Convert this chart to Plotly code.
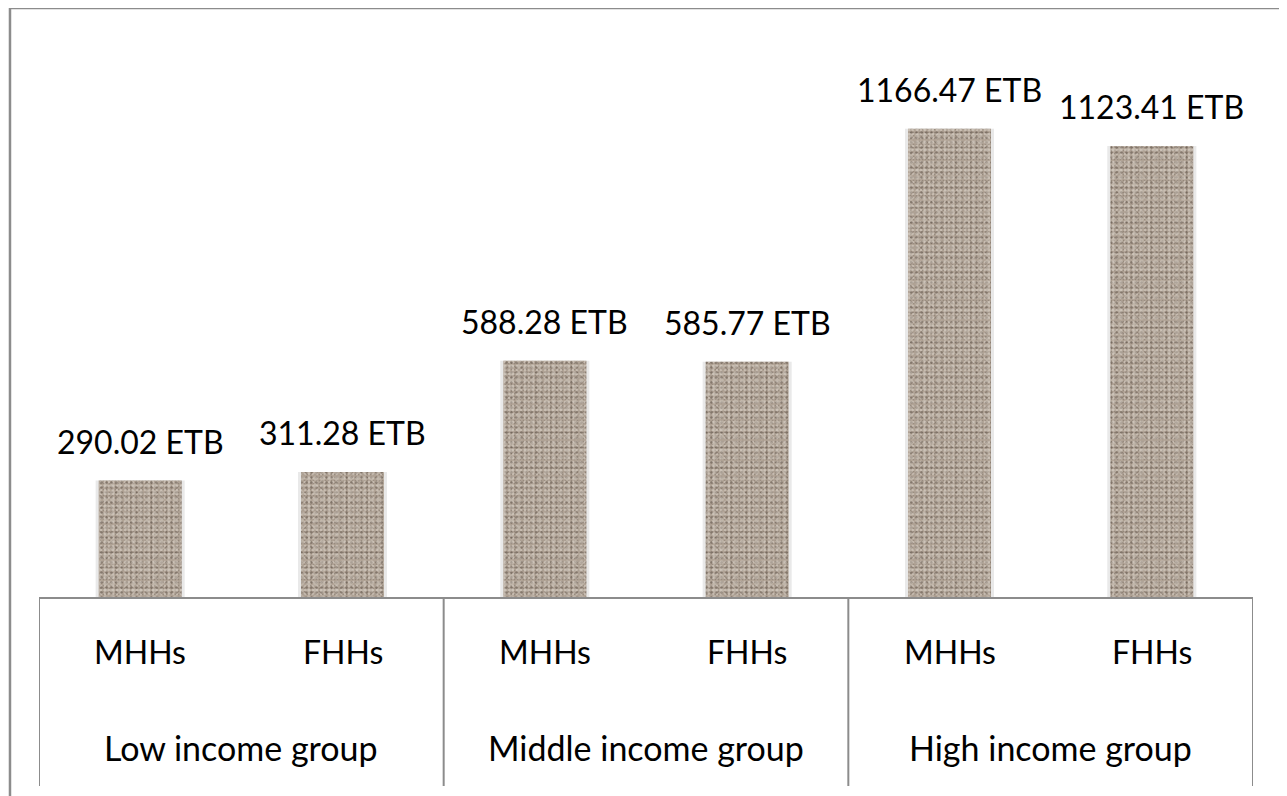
import plotly.graph_objects as go

groups = ["Low income group", "Middle income group", "High income group"]
heads = ["MHHs", "FHHs"]
values = [290.02, 311.28, 588.28, 585.77, 1166.47, 1123.41]
value_labels = ["290.02 ETB", "311.28 ETB", "588.28 ETB", "585.77 ETB", "1166.47 ETB", "1123.41 ETB"]

FONT = "Lato"
LINE = "#8c8c8c"

xs = list(range(len(values)))
sub_labels = [h for g in groups for h in heads]

fig = go.Figure()

# faint shadow behind each bar
fig.add_trace(
    go.Bar(
        x=xs,
        y=values,
        width=0.44,
        marker=dict(color="rgba(120,120,120,0.16)", line=dict(width=0)),
        hoverinfo="skip",
    )
)

# granite-like texture: small dot patterns with co-prime sizes stacked on top of each other
fig.add_trace(
    go.Bar(
        x=xs,
        y=values,
        width=0.41,
        marker=dict(
            color="#afa295",
            line=dict(width=0),
            pattern=dict(shape=".", fgcolor="#7a6d61", size=3, solidity=0.25),
        ),
    )
)
for fg, size, sol in [("#ddd5cc", 4, 0.3), ("#564a40", 5, 0.2), ("#d2c9c0", 7, 0.35)]:
    fig.add_trace(
        go.Bar(
            x=xs,
            y=values,
            width=0.41,
            marker=dict(
                color="rgba(0,0,0,0)",
                line=dict(width=0),
                pattern=dict(shape=".", fgcolor=fg, bgcolor="rgba(0,0,0,0)",
                             fillmode="overlay", size=size, solidity=sol),
            ),
            hoverinfo="skip",
        )
    )

annotations = []
for x, v, t in zip(xs, values, value_labels):
    annotations.append(
        dict(x=x, y=v, xref="x", yref="y", text=t, showarrow=False,
             yanchor="bottom", yshift=18, font=dict(family=FONT, size=32, color="black"))
    )
for x, t in zip(xs, sub_labels):
    annotations.append(
        dict(x=x, y=0, xref="x", yref="paper", text=t, showarrow=False,
             yanchor="middle", yshift=-54, font=dict(family=FONT, size=32, color="black"))
    )
for i, g in enumerate(groups):
    annotations.append(
        dict(x=i * 2 + 0.5, y=0, xref="x", yref="paper", text=g, showarrow=False,
             yanchor="middle", yshift=-150, font=dict(family=FONT, size=34, color="black"))
    )

shapes = [
    # outer chart border
    dict(type="rect", xref="paper", yref="paper", x0=-0.0239, x1=1.0239, y0=-0.36, y1=1.0208,
         line=dict(color=LINE, width=2.5), fillcolor="rgba(0,0,0,0)", layer="below"),
]
for b in [-0.5, 1.5, 3.5, 5.5]:
    shapes.append(
        dict(type="line", xref="x", yref="paper", x0=b, x1=b, y0=0, y1=-0.3276,
             line=dict(color=LINE, width=2))
    )

fig.update_layout(
    width=1287,
    height=796,
    margin=dict(l=31, r=42, t=12, b=207),
    plot_bgcolor="white",
    paper_bgcolor="white",
    barmode="overlay",
    showlegend=False,
    annotations=annotations,
    shapes=shapes,
    xaxis=dict(range=[-0.5, 5.5], showticklabels=False, showgrid=False, zeroline=False,
               showline=True, linecolor=LINE, linewidth=2, fixedrange=True),
    yaxis=dict(range=[0, 1437], visible=False, fixedrange=True),
)

fig.write_html("out.html")
